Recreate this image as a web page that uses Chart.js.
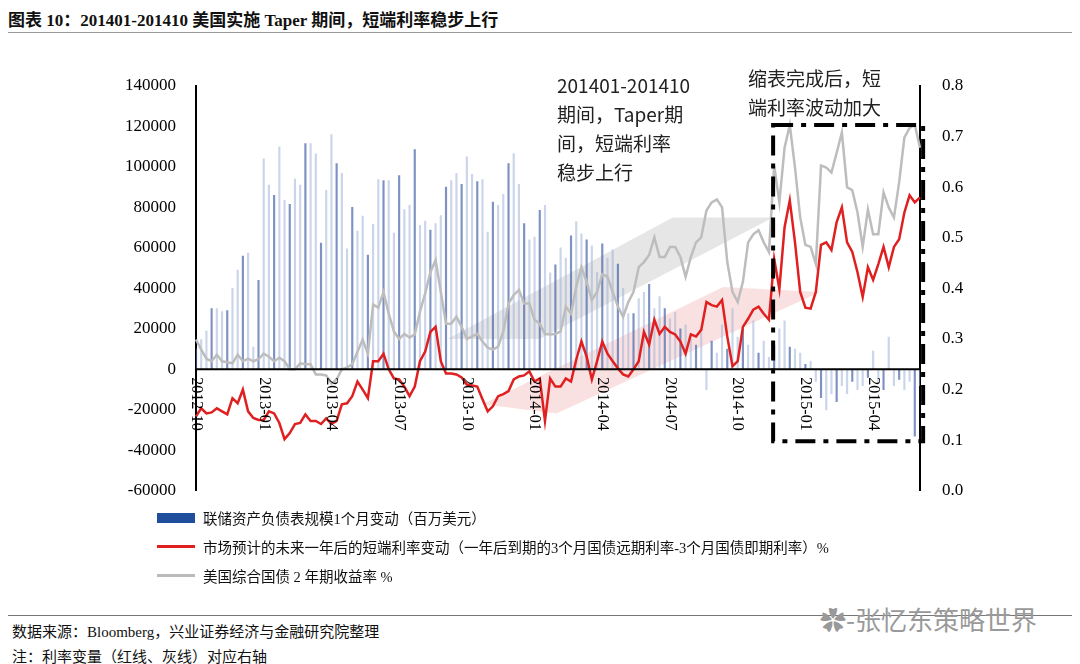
<!DOCTYPE html>
<html>
<head>
<meta charset="utf-8">
<script src="https://cdn.jsdelivr.net/npm/chart.js@4"></script>
<style>
  body { margin: 0; width: 1080px; height: 664px; background: #fff; position: relative; overflow: hidden; font-family: "Liberation Serif", "Noto Sans CJK SC", serif; }
  #title { position: absolute; left: 8px; top: 6px; font-size: 17px; font-weight: bold; color: #111; }
  #topline { position: absolute; left: 8px; right: 8px; top: 32px; height: 1px; background: #999; }
  #wrap { position: absolute; left: 0; top: 0; width: 1080px; height: 515px; }
  .note { position: absolute; font-family: "Noto Sans CJK SC", sans-serif; font-size: 19px; line-height: 29px; color: #222; }
  #legend { position: absolute; left: 157px; top: 503px; font-size: 14.5px; color: #111; }
  .row { height: 29px; display: flex; align-items: center; }
  .sw { width: 38px; margin-right: 8px; }
  #botline { position: absolute; left: 8px; right: 8px; top: 615px; height: 1px; background: #777; }
  .foot { position: absolute; left: 12px; font-size: 15px; color: #111; }
  #mark { position: absolute; left: 820px; top: 600px; font-family: "Noto Sans CJK SC", sans-serif; font-size: 26px; color: #999; }
</style>
</head>
<body>
<div id="title">图表 10：201401-201410 美国实施 Taper 期间，短端利率稳步上行</div>
<div id="topline"></div>
<div id="wrap"><canvas id="grafico" width="1080" height="515"></canvas></div>
<div class="note" style="left:557px;top:70px;">201401-201410<br>期间，Taper期<br>间，短端利率<br>稳步上行</div>
<div class="note" style="left:748px;top:63px;">缩表完成后，短<br>端利率波动加大</div>
<div id="legend">
  <div class="row"><div class="sw" style="height:10px;background:#1f4e9c"></div>联储资产负债表规模1个月变动（百万美元）</div>
  <div class="row"><div class="sw" style="height:3px;background:#e02020"></div>市场预计的未来一年后的短端利率变动（一年后到期的3个月国债远期利率-3个月国债即期利率）%</div>
  <div class="row"><div class="sw" style="height:3px;background:#bbb"></div>美国综合国债 2 年期收益率 %</div>
</div>
<div id="botline"></div>
<div class="foot" style="top:620px;">数据来源：Bloomberg，兴业证券经济与金融研究院整理</div>
<div class="foot" style="top:645px;">注：利率变量（红线、灰线）对应右轴</div>
<div id="mark">✿-张忆东策略世界</div>
<script>
const quarterLabels = ['2012-10', '2013-01', '2013-04', '2013-07', '2013-10', '2014-01', '2014-04', '2014-07', '2014-10', '2015-01', '2015-04'];

const balanceChange = [10000, 14700, 19000, 30000, 30000, 28500, 29000, 40000, 49000, 56000,
  57500, 11000, 44000, 104000, 91000, 86000, 110000, 83500, 81500, 94000,
  91000, 111500, 111500, 106500, 62400, 88500, 116000, 101700, 96800, 59500,
  80000, 68300, 75700, 56500, 71700, 93800, 93300, 93300, 67300, 95800,
  79000, 81000, 108600, 71200, 73200, 68800, 72000, 76000, 90000, 93300,
  96800, 91400, 105000, 96300, 92800, 93800, 67800, 82600, 81000, 86500,
  101700, 106600, 91400, 72000, 64000, 65400, 78600, 81000, 47700, 51600,
  60000, 55000, 66000, 73000, 67000, 64000, 61000, 48000, 62000, 55000,
  59000, 52000, 40000, 27500, 27500, 35000, 38000, 42000, 30000, 36000,
  30000, 25000, 28000, 20000, 22000, 15000, 12000, 18000, -10000, 14000,
  8000, 22000, 10000, 30000, 16000, 20000, 12000, 24000, 8000, 14000,
  6000, 12000, 20000, 24000, 11000, 10000, 8000, 2500, 4000, -6000,
  -14000, -20000, -12000, -16000, -8000, -12000, -6000, -10000, -8000, -4000,
  9000, -6000, -10000, 16000, -8000, -5000, -10000, -6000, -33000, -8000];

const shortRateChange = [.147, .163, .153, .155, .163, .157, .151, .183, .173, .2,
  .157, .144, .14, .14, .157, .153, .134, .102, .114, .132,
  .134, .151, .138, .138, .132, .143, .132, .138, .171, .173,
  .187, .216, .2, .183, .256, .256, .271, .24, .222, .22,
  .206, .187, .206, .256, .275, .314, .324, .256, .232, .232,
  .23, .224, .21, .208, .206, .181, .157, .167, .187, .191,
  .197, .22, .226, .228, .236, .216, .222, .138, .222, .206,
  .206, .222, .216, .259, .295, .265, .22, .256, .295, .271,
  .256, .242, .23, .226, .24, .256, .314, .289, .338, .31,
  .324, .314, .309, .295, .271, .309, .305, .318, .373, .367,
  .364, .377, .305, .246, .256, .324, .34, .358, .364, .35,
  .338, .458, .399, .521, .574, .491, .393, .362, .36, .393,
  .486, .491, .476, .531, .56, .491, .472, .432, .383, .442,
  .417, .448, .482, .442, .482, .497, .55, .584, .57, .58];

const yield2y = [.299, .279, .261, .256, .269, .256, .254, .252, .269, .256,
  .261, .256, .26, .271, .265, .256, .263, .256, .24, .24,
  .252, .25, .25, .23, .23, .228, .212, .22, .24, .244,
  .25, .275, .299, .271, .368, .362, .393, .35, .315, .30,
  .31, .303, .309, .354, .39, .432, .456, .393, .33, .33,
  .344, .324, .30, .305, .31, .295, .283, .279, .285, .315,
  .37, .387, .397, .37, .37, .338, .33, .31, .309, .31,
  .315, .364, .35, .403, .442, .413, .377, .393, .428, .423,
  .393, .364, .344, .373, .393, .442, .452, .466, .501, .462,
  .462, .482, .482, .462, .423, .462, .491, .501, .554, .57,
  .576, .56, .452, .393, .373, .413, .491, .507, .515, .491,
  .472, .643, .57, .678, .723, .639, .54, .486, .482, .448,
  .643, .639, .629, .668, .708, .6, .594, .55, .482, .556,
  .507, .507, .59, .56, .54, .61, .698, .717, .723, .678];

// semanas: so a cada 13 semanas aparece um rotulo de trimestre
const weeks = balanceChange.map((v, i) => i % 13 === 0 ? quarterLabels[i / 13] : '');

const bandas = [
  { color: 'rgba(200,200,200,0.45)', pts: [[48.3, .30], [91.5, .54], [110.8, .54], [66, .30]] },
  { color: 'rgba(240,170,170,0.35)', pts: [[55, .171], [101.2, .403], [119.8, .393], [69.2, .153]] }
];

const extras = {
  id: 'extras',
  beforeDatasetsDraw(chart) {
    const { ctx, scales } = chart;
    bandas.forEach(b => {
      ctx.save();
      ctx.fillStyle = b.color;
      ctx.beginPath();
      b.pts.forEach((p, k) => {
        const x = scales.x.getPixelForValue(p[0]);
        const y = scales.y1.getPixelForValue(p[1]);
        k === 0 ? ctx.moveTo(x, y) : ctx.lineTo(x, y);
      });
      ctx.closePath();
      ctx.fill();
      ctx.restore();
    });
  },
  afterDatasetsDraw(chart) {
    const { ctx, scales } = chart;
    const zeroY = scales.y.getPixelForValue(0);
    ctx.save();
    ctx.strokeStyle = '#000';
    ctx.lineWidth = 2;
    ctx.beginPath();
    ctx.moveTo(chart.chartArea.left, zeroY);
    ctx.lineTo(chart.chartArea.right, zeroY);
    ctx.stroke();
    ctx.font = '16px "Liberation Serif"';
    ctx.fillStyle = '#000';
    ctx.textBaseline = 'middle';
    weeks.forEach((lab, i) => {
      if (!lab) return;
      const x = scales.x.getPixelForValue(i);
      ctx.save();
      ctx.translate(x, zeroY + 8);
      ctx.rotate(Math.PI / 2);
      ctx.fillText(lab, 0, 0);
      ctx.restore();
    });
    // caixa tracejada
    const x1 = scales.x.getPixelForValue(110.8), x2 = scales.x.getPixelForValue(139.6);
    const y1 = scales.y1.getPixelForValue(.723), y2 = scales.y1.getPixelForValue(.098);
    ctx.lineWidth = 4;
    ctx.setLineDash([20, 8, 5, 8]);
    ctx.strokeRect(x1, y1, x2 - x1, y2 - y1);
    ctx.restore();
  }
};

new Chart(document.getElementById('grafico'), {
  data: {
    labels: weeks,
    datasets: [
      {
        type: 'line', label: '市场预计的未来一年后的短端利率变动', data: shortRateChange, yAxisID: 'y1',
        borderColor: '#e02020', borderWidth: 2.5, pointRadius: 0, tension: 0, order: 1
      },
      {
        type: 'line', label: '美国综合国债 2 年期收益率', data: yield2y, yAxisID: 'y1',
        borderColor: '#bdbdbd', borderWidth: 2.5, pointRadius: 0, tension: 0, order: 2
      },
      {
        type: 'bar', label: '联储资产负债表规模1个月变动', data: balanceChange, yAxisID: 'y',
        backgroundColor: c => c.dataIndex % 3 === 0 ? 'rgba(70,100,170,0.7)' : 'rgba(160,178,215,0.55)',
        barThickness: 1.5, order: 3
      }
    ]
  },
  options: {
    responsive: false,
    animation: false,
    devicePixelRatio: 1,
    layout: { padding: { top: 86, bottom: 10, left: 0, right: 0 } },
    plugins: { legend: { display: false }, tooltip: { enabled: false } },
    scales: {
      x: {
        offset: false,
        grid: { display: false },
        border: { display: false },
        ticks: { display: false }
      },
      y: {
        position: 'left', min: -60000, max: 140000,
        ticks: { stepSize: 20000, color: '#000', font: { family: 'Liberation Serif', size: 17 }, padding: 12,
          callback: v => String(v) },
        grid: { display: false },
        border: { color: '#000', width: 2 },
        afterFit(s) { s.width = 196; }
      },
      y1: {
        position: 'right', min: 0, max: 0.8,
        ticks: { stepSize: 0.1, color: '#000', font: { family: 'Liberation Serif', size: 17 }, padding: 14,
          callback: v => Number(v).toFixed(1) },
        grid: { display: false },
        border: { color: '#000', width: 2 },
        afterFit(s) { s.width = 160; }
      }
    }
  },
  plugins: [extras]
});
</script>
</body>
</html>
